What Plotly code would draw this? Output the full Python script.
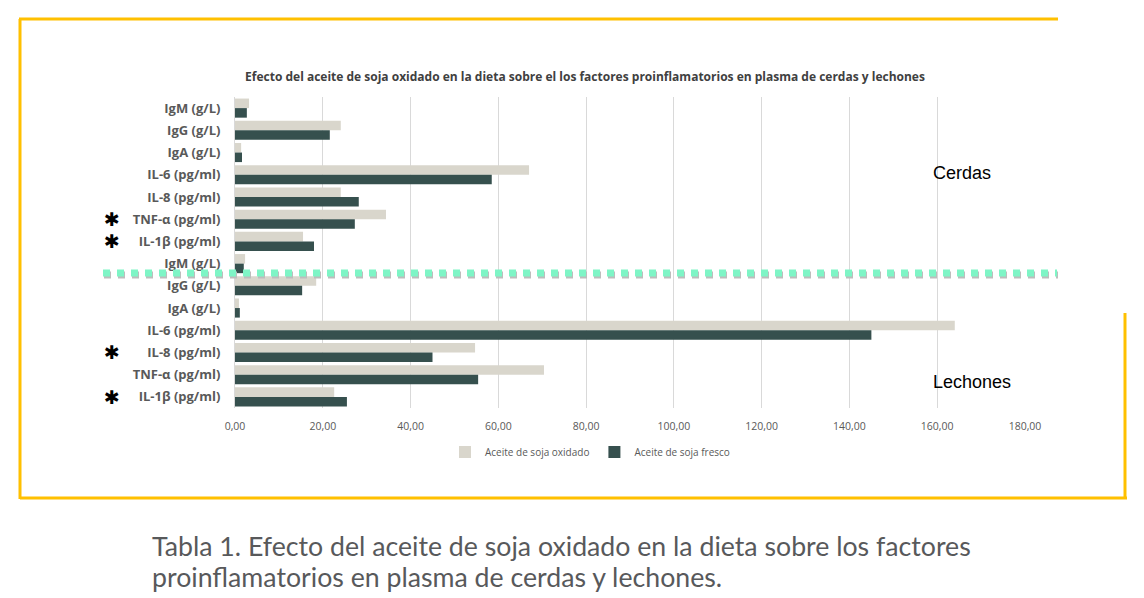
import plotly.graph_objects as go

# ---- data ----
categories = ["IgM (g/L)", "IgG (g/L)", "IgA (g/L)", "IL-6 (pg/ml)", "IL-8 (pg/ml)",
              "TNF-α (pg/ml)", "IL-1β (pg/ml)",
              "IgM (g/L)", "IgG (g/L)", "IgA (g/L)", "IL-6 (pg/ml)", "IL-8 (pg/ml)",
              "TNF-α (pg/ml)", "IL-1β (pg/ml)"]
oxidado = [3.2, 24.1, 1.4, 67.0, 24.1, 34.4, 15.5,
           2.3, 18.5, 0.9, 164.0, 54.7, 70.4, 22.6]
fresco = [2.7, 21.6, 1.6, 58.5, 28.2, 27.3, 18.0,
          2.0, 15.3, 1.1, 145.0, 45.0, 55.4, 25.5]
significant = [False, False, False, False, False, True, True,
               False, False, False, False, True, False, True]
series_names = ["Aceite de soja oxidado", "Aceite de soja fresco"]
x_ticks = [0, 20, 40, 60, 80, 100, 120, 140, 160, 180]
title_text = ("Efecto del aceite de soja oxidado en la dieta sobre el los factores "
              "proinflamatorios en plasma de cerdas y lechones")
caption_lines = ["Tabla 1. Efecto del aceite de soja oxidado en la dieta sobre los factores",
                 "proinflamatorios en plasma de cerdas y lechones."]

# ---- layout geometry ----
W, H = 1144, 598
ML, MR, MT, MB = 235, 119, 97, 190
PW, PH = W - ML - MR, H - MT - MB


def px(xp):
    return (xp - ML) / PW


def py(yp):
    return (H - MB - yp) / PH


idx = list(range(len(categories)))
c_light = "#d9d6cc"
c_dark = "#36504e"

fig = go.Figure()
fig.add_trace(go.Bar(y=idx, x=oxidado, orientation="h", name=series_names[0],
                     marker=dict(color=c_light, line=dict(width=0))))
fig.add_trace(go.Bar(y=idx, x=fresco, orientation="h", name=series_names[1],
                     marker=dict(color=c_dark, line=dict(width=0))))

fig.update_layout(
    width=W, height=H,
    margin=dict(l=ML, r=MR, t=MT, b=MB),
    paper_bgcolor="white", plot_bgcolor="white",
    barmode="group", bargap=0.14, bargroupgap=0.0,
    separators=",.",
    showlegend=True,
    legend=dict(orientation="h", x=px(590), y=py(452), xanchor="center", yanchor="middle",
                font=dict(family="Open Sans", size=10, color="#595959"),
                itemwidth=30, traceorder="normal"),
    title=dict(text=title_text, x=585 / W, xanchor="center",
               y=1 - 77 / H, yanchor="middle",
               font=dict(family="Open Sans", size=12, color="#404040", weight="bold")),
)

fig.update_xaxes(range=[0, 180], tickvals=x_ticks, tickformat=".2f",
                 showgrid=True, gridcolor="#d9d9d9", gridwidth=1,
                 zeroline=False, showline=False, ticks="", ticklabelstandoff=10,
                 tickfont=dict(family="Open Sans", size=10.5, color="#595959"))
fig.update_yaxes(range=[len(categories) - 0.5, -0.5], tickvals=idx, ticktext=categories,
                 showgrid=False, zeroline=False, showline=True, linecolor="#d9d9d9",
                 linewidth=1, ticks="", ticklabelstandoff=11,
                 tickfont=dict(family="Open Sans", size=13, color="#595959", weight="bold"))

shapes = []
gold = "#ffc000"
# yellow frame (broken at top-right corner)
for (x0, y0, x1, y1) in [(19, 19, 1058, 19), (20, 19, 20, 499), (20, 498, 1127, 498), (1125, 313, 1125, 499)]:
    shapes.append(dict(type="line", xref="paper", yref="paper", x0=px(x0), y0=py(y0), x1=px(x1), y1=py(y1),
                       line=dict(color=gold, width=3), layer="above"))
# dotted separator with faint shadow
shapes.append(dict(type="line", xref="paper", yref="paper", x0=px(104), y0=py(275), x1=px(1058), y1=py(275),
                   line=dict(color="#bdbdbd", width=7, dash="7px,7px"), layer="above"))
shapes.append(dict(type="line", xref="paper", yref="paper", x0=px(103), y0=py(273), x1=px(1057), y1=py(273),
                   line=dict(color="#7ef5c6", width=7, dash="7px,7px"), layer="above"))
fig.update_layout(shapes=shapes)

annotations = []
for i, sig in enumerate(significant):
    if sig:
        annotations.append(dict(text="<b>✱</b>", xref="paper", yref="y", x=px(112), y=i,
                                showarrow=False, xanchor="center", yanchor="middle",
                                font=dict(family="DejaVu Sans", size=19, color="black")))
annotations.append(dict(text="Cerdas", xref="paper", yref="paper", x=px(931), y=py(173),
                        xanchor="left", yanchor="middle", showarrow=False,
                        font=dict(family="Liberation Sans", size=18, color="black")))
annotations.append(dict(text="Lechones", xref="paper", yref="paper", x=px(931), y=py(382),
                        xanchor="left", yanchor="middle", showarrow=False,
                        font=dict(family="Liberation Sans", size=18, color="black")))
for line, yc in zip(caption_lines, [546, 577]):
    annotations.append(dict(text=line, xref="paper", yref="paper", x=px(150), y=py(yc),
                            xanchor="left", yanchor="middle", align="left", showarrow=False,
                            font=dict(family="Lato", size=26.7, color="#58595b")))
fig.update_layout(annotations=annotations)

fig.write_html("out.html", config={"displayModeBar": False},
               post_script="document.body.style.margin='0';")
